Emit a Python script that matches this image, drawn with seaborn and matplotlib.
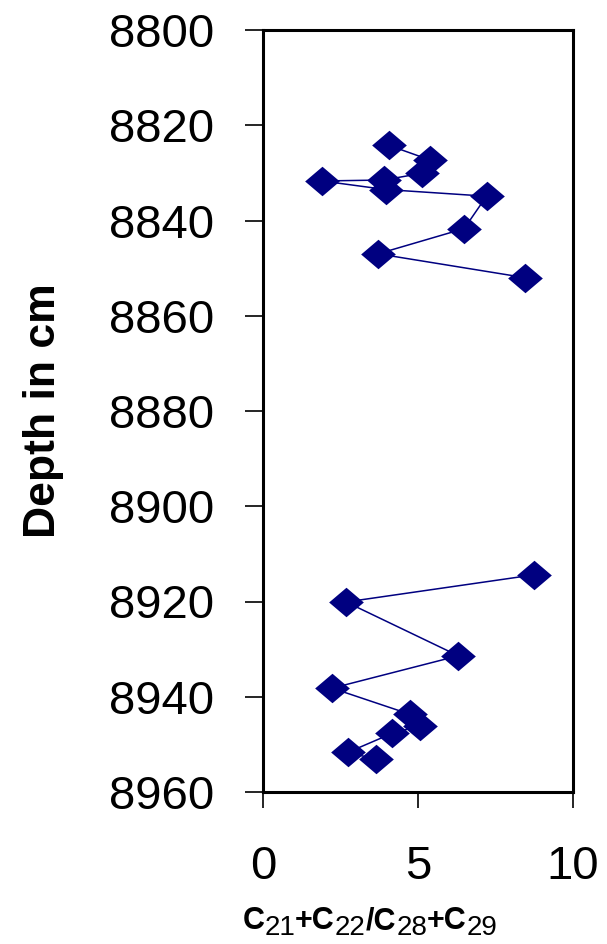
import matplotlib
matplotlib.use("Agg")
import matplotlib.pyplot as plt
import seaborn as sns
import pandas as pd

# ---- data ----
ratio_upper = [4.05, 5.39, 5.12, 3.89, 1.90, 3.96, 7.21, 6.49, 3.71, 8.45]
depth_upper = [8824.2, 8827.3, 8830.1, 8831.5, 8831.7, 8833.5, 8834.9, 8841.7, 8847.0, 8852.0]
ratio_lower = [8.75, 2.68, 6.30, 2.23, 4.75, 5.07, 4.16, 2.73, 3.65]
depth_lower = [8914.4, 8920.1, 8931.4, 8938.2, 8943.7, 8946.1, 8947.7, 8951.7, 8953.1]
x_ticks = [0, 5, 10]
y_ticks = [8800, 8820, 8840, 8860, 8880, 8900, 8920, 8940, 8960]

df = pd.DataFrame({
    "ratio": ratio_upper + ratio_lower,
    "depth": depth_upper + depth_lower,
    "segment": ["upper"] * len(ratio_upper) + ["lower"] * len(ratio_lower),
})

sns.set_style("ticks")
plt.rcParams["font.family"] = ["Liberation Sans", "DejaVu Sans"]
plt.rcParams["text.color"] = "black"
plt.rcParams["axes.labelcolor"] = "black"
plt.rcParams["xtick.color"] = "black"
plt.rcParams["ytick.color"] = "black"

W, H = 607, 944
fig = plt.figure(figsize=(W / 100, H / 100), dpi=100)
ax_l, ax_r, ax_t, ax_b = 263, 573, 30, 792
ax = fig.add_axes([ax_l / W, 1 - ax_b / H, (ax_r - ax_l) / W, (ax_b - ax_t) / H])

navy = "#000080"
diamond = [(-1, 0), (0, -0.85), (1, 0), (0, 0.85), (-1, 0)]
sns.lineplot(data=df, x="ratio", y="depth", units="segment", estimator=None,
             sort=False, color=navy, linewidth=1.1, marker=diamond,
             markersize=25, markeredgewidth=0, markeredgecolor=navy,
             markerfacecolor=navy, ax=ax, legend=False)

ax.set_xlim(0, 10)
ax.set_ylim(8960, 8800)
ax.set_xticks(x_ticks)
ax.set_yticks(y_ticks)
ax.set_xticklabels([str(v) for v in x_ticks])
ax.set_yticklabels([str(v) for v in y_ticks])

for s in ax.spines.values():
    s.set_visible(True)
    s.set_linewidth(2.2)
    s.set_color("black")

ax.tick_params(axis="y", length=13, width=1.2, pad=22, labelsize=34, direction="out",
               colors="black", labelcolor="black")
ax.tick_params(axis="x", length=11.5, width=1.2, pad=27, labelsize=34, direction="out",
               colors="black", labelcolor="black")
ax.grid(False)

ax.set_xlabel("")
ax.set_ylabel("Depth in cm", fontsize=32, fontweight="bold", color="black")
ax.yaxis.set_label_coords((64 - ax_l) / (ax_r - ax_l), 0.5)

# x label: C21+C22/C28+C29 with large regular subscripts
pieces = [("C", False), ("21", True), ("+C", False), ("22", True), ("/C", False),
          ("28", True), ("+C", False), ("29", True)]
renderer = fig.canvas.get_renderer()
main_size, sub_size, drop = 22, 20, 6
baseline = 929
texts = []
x = 0
for s, sub in pieces:
    t = fig.text(x / W, 1 - (baseline + (drop if sub else 0)) / H, s,
                 fontsize=sub_size if sub else main_size,
                 fontweight="normal" if sub else "bold",
                 ha="left", va="baseline", color="black")
    bb = t.get_window_extent(renderer)
    x = bb.x1
    texts.append(t)
total = x
start = 370 - total / 2
for t in texts:
    px, py = t.get_position()
    t.set_position((px + start / W, py))

fig.savefig("out.png", dpi=100)
